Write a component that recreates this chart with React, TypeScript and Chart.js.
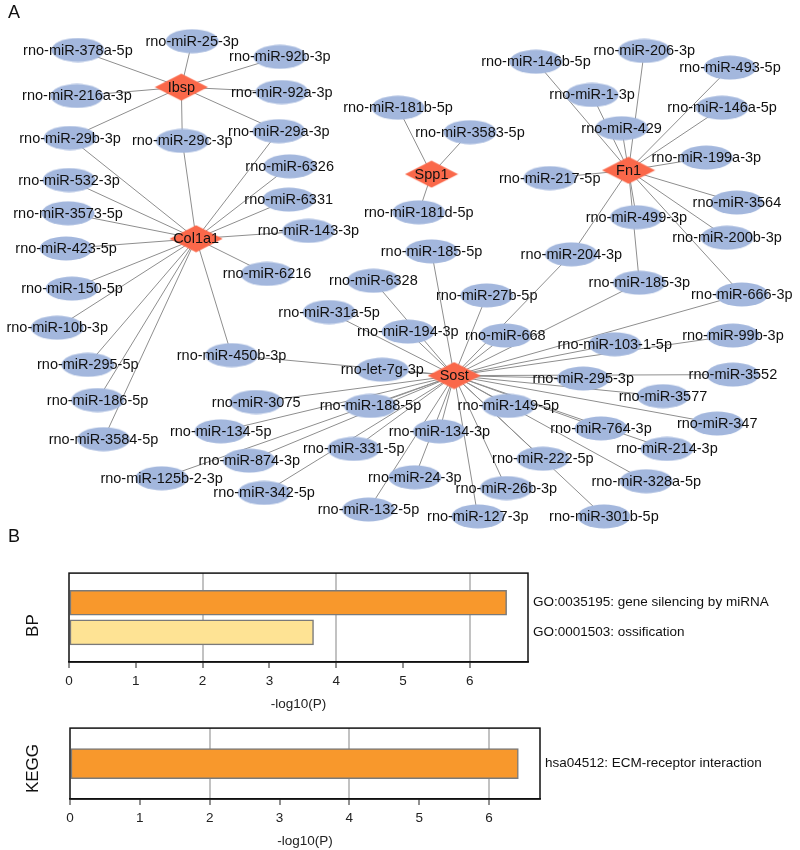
import React, { useEffect, useRef } from "react";
import { Chart, registerables } from "chart.js";
Chart.register(...registerables);

const FONT = "'Liberation Sans', Arial, Helvetica, sans-serif";

// ---------- Panel A: network ----------
const geneNames = ["Ibsp", "Col1a1", "Spp1", "Fn1", "Sost"];
const geneX = [178, 193, 432, 632, 455];
const geneY = [83, 238, 172, 168, 378];

const mirNames = [
  "rno-miR-378a-5p", "rno-miR-25-3p", "rno-miR-92b-3p", "rno-miR-216a-3p", "rno-miR-92a-3p",
  "rno-miR-29b-3p", "rno-miR-29c-3p", "rno-miR-29a-3p", "rno-miR-6326", "rno-miR-532-3p",
  "rno-miR-6331", "rno-miR-3573-5p", "rno-miR-143-3p", "rno-miR-423-5p", "rno-miR-6216",
  "rno-miR-150-5p", "rno-miR-10b-3p", "rno-miR-450b-3p", "rno-miR-295-5p", "rno-miR-186-5p",
  "rno-miR-3584-5p", "rno-miR-3075", "rno-miR-134-5p", "rno-miR-874-3p", "rno-miR-125b-2-3p",
  "rno-miR-342-5p", "rno-miR-331-5p", "rno-miR-188-5p", "rno-miR-31a-5p", "rno-miR-6328",
  "rno-let-7g-3p", "rno-miR-132-5p", "rno-miR-24-3p", "rno-miR-134-3p", "rno-miR-194-3p",
  "rno-miR-27b-5p", "rno-miR-668", "rno-miR-185-3p", "rno-miR-666-3p", "rno-miR-103-1-5p",
  "rno-miR-99b-3p", "rno-miR-295-3p", "rno-miR-3552", "rno-miR-3577", "rno-miR-149-5p",
  "rno-miR-347", "rno-miR-764-3p", "rno-miR-214-3p", "rno-miR-222-5p", "rno-miR-328a-5p",
  "rno-miR-26b-3p", "rno-miR-127-3p", "rno-miR-301b-5p", "rno-miR-146b-5p", "rno-miR-206-3p",
  "rno-miR-493-5p", "rno-miR-181b-5p", "rno-miR-1-3p", "rno-miR-146a-5p", "rno-miR-3583-5p",
  "rno-miR-429", "rno-miR-199a-3p", "rno-miR-217-5p", "rno-miR-181d-5p", "rno-miR-3564",
  "rno-miR-499-3p", "rno-miR-200b-3p", "rno-miR-185-5p", "rno-miR-204-3p",
];
const mirX = [
  73, 189, 278, 72, 280,
  65, 179, 277, 288, 64,
  287, 63, 307, 61, 265,
  67, 52, 229, 83, 93,
  99, 254, 218, 247, 158,
  262, 353, 370, 328, 373,
  382, 368, 415, 440, 408,
  488, 507, 643, 747, 618,
  738, 586, 738, 667, 510,
  722, 604, 671, 545, 650,
  508, 479, 607, 538, 648,
  735, 398, 595, 727, 471,
  625, 711, 552, 419, 742,
  640, 732, 432, 574,
];
const mirY = [
  45, 36, 52, 92, 88,
  135, 138, 128, 164, 178,
  198, 212, 230, 248, 274,
  289, 329, 357, 367, 403,
  443, 405, 435, 465, 483,
  498, 453, 409, 313, 281,
  372, 515, 482, 435, 333,
  296, 337, 283, 295, 346,
  337, 381, 377, 399, 409,
  427, 432, 453, 463, 486,
  493, 522, 522, 57, 46,
  63, 104, 91, 104, 129,
  125, 155, 176, 211, 201,
  216, 237, 251, 254,
];

const ibspTargets = [
  "rno-miR-378a-5p", "rno-miR-25-3p", "rno-miR-92b-3p", "rno-miR-216a-3p",
  "rno-miR-92a-3p", "rno-miR-29b-3p", "rno-miR-29c-3p", "rno-miR-29a-3p",
];
const col1a1Targets = [
  "rno-miR-29b-3p", "rno-miR-29c-3p", "rno-miR-29a-3p", "rno-miR-6326", "rno-miR-6331",
  "rno-miR-143-3p", "rno-miR-532-3p", "rno-miR-3573-5p", "rno-miR-423-5p", "rno-miR-150-5p",
  "rno-miR-10b-3p", "rno-miR-295-5p", "rno-miR-186-5p", "rno-miR-3584-5p", "rno-miR-6216",
  "rno-miR-450b-3p",
];
const spp1Targets = ["rno-miR-181b-5p", "rno-miR-3583-5p", "rno-miR-181d-5p"];
const fn1Targets = [
  "rno-miR-146b-5p", "rno-miR-206-3p", "rno-miR-493-5p", "rno-miR-1-3p", "rno-miR-146a-5p",
  "rno-miR-429", "rno-miR-199a-3p", "rno-miR-217-5p", "rno-miR-3564", "rno-miR-499-3p",
  "rno-miR-200b-3p", "rno-miR-204-3p", "rno-miR-185-3p", "rno-miR-666-3p",
];
const sostTargets = [
  "rno-miR-185-5p", "rno-miR-6328", "rno-miR-31a-5p", "rno-miR-194-3p", "rno-let-7g-3p",
  "rno-miR-450b-3p", "rno-miR-27b-5p", "rno-miR-668", "rno-miR-204-3p", "rno-miR-185-3p",
  "rno-miR-666-3p", "rno-miR-103-1-5p", "rno-miR-99b-3p", "rno-miR-295-3p", "rno-miR-3552",
  "rno-miR-3577", "rno-miR-347", "rno-miR-149-5p", "rno-miR-764-3p", "rno-miR-214-3p",
  "rno-miR-222-5p", "rno-miR-328a-5p", "rno-miR-301b-5p", "rno-miR-26b-3p", "rno-miR-127-3p",
  "rno-miR-24-3p", "rno-miR-132-5p", "rno-miR-134-3p", "rno-miR-331-5p", "rno-miR-342-5p",
  "rno-miR-874-3p", "rno-miR-125b-2-3p", "rno-miR-134-5p", "rno-miR-188-5p", "rno-miR-3075",
];
const geneTargets = [ibspTargets, col1a1Targets, spp1Targets, fn1Targets, sostTargets];

// ---------- Panel B: enrichment bars ----------
const bpTerms = ["GO:0035195: gene silencing by miRNA", "GO:0001503: ossification"];
const bpValues = [6.55, 3.66];
const bpColors = ["#F8982C", "#FEE394"];
const bpAxisMax = 6.87;
const keggTerms = ["hsa04512: ECM-receptor interaction"];
const keggValues = [6.42];
const keggColors = ["#F8982C"];
const keggAxisMax = 6.73;
const gridValues = [2, 4, 6];

function makeEllipse() {
  const c = document.createElement("canvas");
  c.width = 54;
  c.height = 25;
  const g = c.getContext("2d")!;
  g.fillStyle = "#a3b7dd";
  g.beginPath();
  g.ellipse(27, 12.5, 26.5, 12, 0, 0, Math.PI * 2);
  g.fill();
  return c;
}
function makeDiamond() {
  const c = document.createElement("canvas");
  c.width = 54;
  c.height = 28;
  const g = c.getContext("2d")!;
  g.fillStyle = "#fa684a";
  g.beginPath();
  g.moveTo(27, 0.5);
  g.lineTo(53.5, 14);
  g.lineTo(27, 27.5);
  g.lineTo(0.5, 14);
  g.closePath();
  g.fill();
  return c;
}

const nodeLabelPlugin = {
  id: "nodeLabels",
  afterDatasetsDraw(chart: any) {
    const ctx = chart.ctx;
    ctx.save();
    ctx.font = `14.5px ${FONT}`;
    ctx.fillStyle = "#111";
    ctx.textAlign = "center";
    ctx.textBaseline = "middle";
    const draw = (dsIndex: number, names: string[]) => {
      const meta = chart.getDatasetMeta(dsIndex);
      meta.data.forEach((el: any, i: number) => {
        ctx.fillText(names[i], el.x, el.y + 0.5);
      });
    };
    draw(1, mirNames);
    draw(0, geneNames);
    ctx.restore();
  },
};

function framePlugin(groupLabel: string, shift: number) {
  return {
    id: "frame_" + groupLabel,
    afterDraw(chart: any) {
      const { ctx, chartArea } = chart;
      ctx.save();
      ctx.strokeStyle = "#111";
      ctx.lineWidth = 1.5;
      ctx.strokeRect(chartArea.left, chartArea.top, chartArea.right - chartArea.left, chartArea.bottom - chartArea.top);
      ctx.translate(33, (chartArea.top + chartArea.bottom) / 2 + shift);
      ctx.rotate(-Math.PI / 2);
      ctx.font = `17px ${FONT}`;
      ctx.fillStyle = "#111";
      ctx.textAlign = "center";
      ctx.textBaseline = "middle";
      ctx.fillText(groupLabel, 0, 0);
      ctx.restore();
    },
  };
}

function barConfig(
  labels: string[],
  values: (number | null)[],
  colors: string[],
  axisMax: number,
  thickness: number,
  padLeft: number,
  rightWidth: number,
  padTop: number,
  axisHeight: number,
  titleBottom: number,
  groupLabel: string,
  shift: number,
  offset: boolean
): any {
  return {
    type: "bar",
    data: {
      labels,
      datasets: [
        {
          data: values,
          backgroundColor: colors,
          borderColor: "#7a7a7a",
          borderWidth: 1.5,
          borderSkipped: false,
          barThickness: thickness,
        },
      ],
    },
    options: {
      indexAxis: "y",
      responsive: false,
      animation: false,
      events: [],
      layout: { padding: { left: padLeft, right: 0, top: padTop, bottom: 0 } },
      plugins: { legend: { display: false }, tooltip: { enabled: false } },
      scales: {
        x: {
          type: "linear",
          position: "bottom",
          min: 0,
          max: axisMax,
          ticks: {
            stepSize: 1,
            includeBounds: false,
            padding: 5,
            color: "#222",
            font: { family: FONT, size: 13.5 },
          },
          grid: {
            color: (c: any) => (c.tick && gridValues.includes(c.tick.value) ? "#c2c2c2" : "rgba(0,0,0,0)"),
            lineWidth: 2,
            tickColor: "#222",
            tickWidth: 1,
            tickLength: 6,
          },
          border: { display: true, color: "#111", width: 1.5 },
          title: {
            display: true,
            text: "-log10(P)",
            color: "#222",
            font: { family: FONT, size: 13.5 },
            padding: { top: 0, bottom: titleBottom },
          },
          afterFit: (s: any) => {
            s.height = axisHeight;
          },
        },
        y: {
          type: "category",
          position: "right",
          offset,
          grid: { display: false, drawTicks: false, tickLength: 0 },
          border: { display: false },
          ticks: {
            autoSkip: false,
            padding: 5,
            color: "#111",
            font: { family: FONT, size: 13.5 },
          },
          afterFit: (s: any) => {
            s.width = rightWidth;
          },
        },
      },
    },
    plugins: [framePlugin(groupLabel, shift)],
  };
}

export default function App() {
  const netRef = useRef<HTMLCanvasElement>(null);
  const bpRef = useRef<HTMLCanvasElement>(null);
  const keggRef = useRef<HTMLCanvasElement>(null);

  useEffect(() => {
    const charts: Chart[] = [];
    const ellipse = makeEllipse();
    const diamond = makeDiamond();

    const genePts = geneNames.map((_, i) => ({ x: geneX[i], y: geneY[i] }));
    const mirPts = mirNames.map((_, i) => ({ x: mirX[i], y: mirY[i] }));
    const edgePts: any[] = [];
    geneTargets.forEach((targets, gi) => {
      targets.forEach((name) => {
        const mi = mirNames.indexOf(name);
        if (mi < 0) return;
        edgePts.push({ x: geneX[gi], y: geneY[gi] });
        edgePts.push({ x: mirX[mi], y: mirY[mi] });
        edgePts.push({ x: null, y: null });
      });
    });

    if (netRef.current) {
      charts.push(
        new Chart(netRef.current, {
          type: "scatter",
          data: {
            datasets: [
              { data: genePts, pointStyle: diamond as any, pointRadius: 5, order: 0 } as any,
              { data: mirPts, pointStyle: ellipse as any, pointRadius: 5, order: 0 } as any,
              {
                type: "line",
                data: edgePts,
                borderColor: "#8e8e8e",
                borderWidth: 1,
                pointRadius: 0,
                fill: false,
                tension: 0,
                spanGaps: false,
                order: 1,
              } as any,
            ],
          },
          options: {
            responsive: false,
            animation: false,
            events: [],
            layout: { padding: 0 },
            plugins: { legend: { display: false }, tooltip: { enabled: false } },
            scales: {
              x: { type: "linear", min: 0, max: 800, display: false },
              y: { type: "linear", min: 0, max: 540, reverse: true, display: false },
            },
          } as any,
          plugins: [nodeLabelPlugin],
        })
      );
    }

    if (bpRef.current) {
      charts.push(
        new Chart(
          bpRef.current,
          barConfig(["", ...bpTerms, ""], [null, ...bpValues, null], ["#fff", ...bpColors, "#fff"],
            bpAxisMax, 25, 69, 272, 11, 50, 0, "BP", 8, false)
        )
      );
    }
    if (keggRef.current) {
      charts.push(
        new Chart(
          keggRef.current,
          barConfig(keggTerms, keggValues, keggColors, keggAxisMax, 30, 70, 260, 11, 51, 1, "KEGG", 5, true)
        )
      );
    }
    return () => charts.forEach((c) => c.destroy());
  }, []);

  const letter: React.CSSProperties = {
    position: "absolute",
    fontFamily: FONT,
    fontSize: 18,
    lineHeight: "20px",
    color: "#111",
  };

  return (
    <div style={{ position: "fixed", left: 0, top: 0, width: 800, height: 850, background: "#fff", overflow: "hidden" }}>
      <canvas ref={netRef} width={800} height={540} style={{ position: "absolute", left: 0, top: 0 }} />
      <canvas ref={bpRef} width={800} height={152} style={{ position: "absolute", left: 0, top: 560 }} />
      <canvas ref={keggRef} width={800} height={135} style={{ position: "absolute", left: 0, top: 715 }} />
      <div style={{ ...letter, left: 8, top: 2 }}>A</div>
      <div style={{ ...letter, left: 8, top: 526 }}>B</div>
    </div>
  );
}
